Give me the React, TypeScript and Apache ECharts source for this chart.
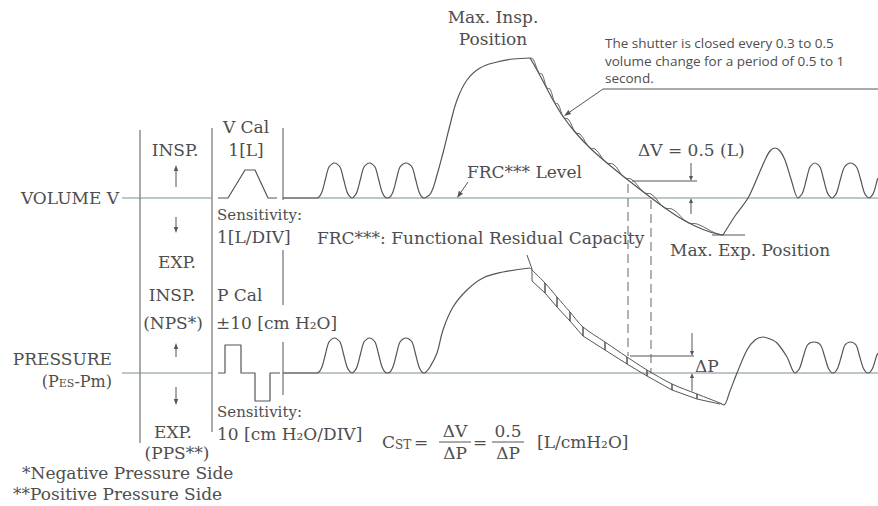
import React, { useEffect, useRef } from "react";
import * as echarts from "echarts";

// ---------------- data (time and signal in chart divisions, read from the recording) ----------------
const baseLeftT = [12.2, 21.2];
const baseMainT = [28.3, 87.8];

const volCalT = [21.8, 22.8, 24.5, 25.5, 26.8, 27.7];
const volCalV = [0, 0, 2.8, 2.8, 0, 0];

const presCalT = [21.8, 22.5, 22.5, 24.1, 24.1, 25.5, 25.5, 27.0, 27.0, 28.0];
const presCalP = [0, 0, 2.8, 2.8, 0, 0, -2.8, -2.8, 0, 0];

const tidalT = [28.3, 31.7, 32.15, 32.55, 32.9, 33.45, 34.0, 34.35, 34.75, 35.2, 35.65, 36.05, 36.4, 36.95, 37.5, 37.85, 38.25, 38.7, 38.8, 39.25, 39.65, 40.0, 40.6, 41.2, 41.55, 41.95, 42.4, 42.5];
const volTidalV = [0, 0, 0.5, 1.9, 3.1, 3.5, 3.1, 1.9, 0.5, 0, 0.5, 1.9, 3.1, 3.5, 3.1, 1.9, 0.5, 0, 0, 0.5, 1.9, 3.1, 3.5, 3.1, 1.9, 0.5, 0, 0];
const presTidalP = [0, 0, 0.5, 1.9, 3.1, 3.5, 3.1, 1.9, 0.5, 0, 0.5, 1.9, 3.1, 3.5, 3.1, 1.9, 0.5, 0, 0, 0.5, 1.9, 3.1, 3.5, 3.1, 1.9, 0.5, 0, 0];

const volInspT = [42.5, 43.1, 43.7, 44.3, 45.0, 45.7, 46.7, 48.0, 49.7, 51.3, 53.0];
const volInspV = [0, 0.5, 2.3, 4.5, 7.3, 9.8, 11.8, 13.0, 13.6, 13.9, 14.0];

const volExpT = [53.0, 53.7, 54.5, 55.3, 56.2, 57.5, 59.0, 60.7, 62.8, 65.0, 66.5, 68.0, 69.5, 71.0, 72.3];
const volExpV = [14.0, 12.8, 11.3, 9.8, 8.3, 6.6, 5.0, 3.5, 1.8, 0.1, -1.0, -2.0, -2.8, -3.4, -3.7];

const volShutterT = [53.0, 53.3, 53.9, 54.2, 54.7, 55.0, 55.5, 55.8, 56.4, 56.8, 57.6, 58.0, 59.0, 59.5, 60.7, 61.3, 62.5, 63.1, 64.5, 65.1, 66.5, 67.2, 68.9, 69.7, 71.5, 72.3];
const volShutterV = [14.0, 13.9, 12.5, 12.4, 11.0, 10.9, 9.5, 9.4, 8.0, 7.9, 6.5, 6.4, 5.0, 4.9, 3.5, 3.4, 2.0, 1.9, 0.5, 0.4, -1.0, -1.1, -2.5, -2.6, -3.5, -3.7];

const volPostT = [72.3, 73.5, 74.8, 75.8, 76.5, 77.0, 77.5, 78.0, 78.5, 79.1, 79.8, 80.25, 80.65, 81.0, 81.5, 82.0, 82.35, 82.75, 83.2, 83.65, 84.05, 84.45, 85.05, 85.65, 86.05, 86.45, 86.9, 87.35, 87.75, 87.8];
const volPostV = [-3.7, -1.8, 0, 2.2, 3.8, 4.7, 5.0, 4.7, 3.8, 1.9, 0, 0.5, 1.9, 3.1, 3.5, 3.1, 1.9, 0.5, 0, 0.5, 1.9, 3.1, 3.5, 3.1, 1.9, 0.5, 0, 0.5, 1.9, 2.0];

const presInspT = [42.5, 43.0, 43.7, 44.3, 45.3, 46.7, 48.3, 50.3, 53.0];
const presInspP = [0, 0.6, 2.0, 4.3, 6.6, 8.3, 9.5, 10.1, 10.5];

const presExpT = [53.0, 54.5, 55.7, 57.0, 58.3, 60.5, 62.7, 64.7, 67.2, 69.7, 72.0];
const presExpP = [10.5, 9.0, 7.6, 6.1, 4.6, 3.1, 1.6, 0.3, -1.1, -2.1, -3.0];

const presStepT = [52.7, 53.2, 53.2, 54.5, 54.5, 54.5, 55.7, 55.7, 55.7, 57.0, 57.0, 57.0, 58.3, 58.3, 58.3, 60.5, 60.5, 60.5, 62.7, 62.7, 62.7, 64.7, 64.7, 64.7, 67.2, 67.2, 67.2, 69.7, 69.7, 69.7, 72.0];
const presStepP = [11.8, 10.4, 9.2, 8.0, 9.0, 8.0, 6.6, 7.6, 6.6, 5.2, 6.1, 5.2, 3.7, 4.6, 3.7, 2.3, 3.1, 2.3, 0.9, 1.6, 0.9, -0.3, 0.3, -0.3, -1.7, -1.1, -1.7, -2.6, -2.1, -2.6, -3.1];

const presPostT = [72.0, 72.4, 73.0, 73.7, 74.7, 75.5, 76.3, 77.0, 77.7, 78.7, 79.5, 79.95, 80.35, 80.75, 81.4, 82.05, 82.45, 82.85, 83.3, 83.75, 84.15, 84.5, 85.05, 85.6, 85.95, 86.35, 86.8, 87.25, 87.65, 87.8];
const presPostP = [-3.0, -3.2, -1.8, 0, 2.3, 3.3, 3.6, 3.4, 3.0, 1.6, 0, 0.45, 1.7, 2.8, 3.1, 2.8, 1.7, 0.45, 0, 0.45, 1.7, 2.8, 3.1, 2.8, 1.7, 0.45, 0, 0.45, 1.7, 2.0];

// annotation values
const deltaVLevel = 1.7;
const deltaPLevel = 1.7;
const tDeltaA = 62.8;
const tDeltaB = 65.1;
const volMin = -3.7;

// ---------------- layout / style ----------------
const W = 878, H = 506;
const X_MIN = 0, X_MAX = 87.8;
const V_MIN = -8, V_MAX = 19;
const P_MIN = -12, P_MAX = 12;
const GV = { left: 0, top: 8, width: 878, height: 270 };
const GP = { left: 0, top: 253, width: 878, height: 240 };
const px = (t: number) => GV.left + ((t - X_MIN) / (X_MAX - X_MIN)) * GV.width;
const pyV = (v: number) => GV.top + ((V_MAX - v) / (V_MAX - V_MIN)) * GV.height;
const pyP = (p: number) => GP.top + ((P_MAX - p) / (P_MAX - P_MIN)) * GP.height;

const SERIF = "'DejaVu Serif', serif";
const SANS = "'Open Sans', Lato, sans-serif";
const TXT = "#4e4e4e";
const LINE = "#555555";
const BASE = "#7b8d9b";
const FS = 17;

const zip = (ts: number[], vs: number[]) => ts.map((t, i) => [t, vs[i]]);

function ser(data: number[][], idx: number, opts: any = {}) {
  return {
    type: "line",
    xAxisIndex: idx,
    yAxisIndex: idx,
    data,
    symbol: "none",
    showSymbol: false,
    silent: true,
    smooth: opts.smooth ?? false,
    lineStyle: { color: opts.color ?? LINE, width: opts.width ?? 1.2, type: opts.type ?? "solid" },
    z: opts.z ?? 3,
  };
}

function T(text: string, x: number, y: number, o: any = {}) {
  return {
    type: "text",
    x,
    y,
    silent: true,
    style: {
      text,
      fill: TXT,
      fontSize: o.size ?? FS,
      fontFamily: o.family ?? SERIF,
      align: o.align ?? "left",
      verticalAlign: "middle",
      rich: o.rich,
    },
  };
}

function L(x1: number, y1: number, x2: number, y2: number, o: any = {}) {
  return {
    type: "line",
    silent: true,
    shape: { x1, y1, x2, y2 },
    style: { stroke: o.color ?? LINE, lineWidth: o.width ?? 1, lineDash: o.dash },
  };
}

function arrow(x1: number, y1: number, x2: number, y2: number, head = 6, half = 2.2) {
  const dx = x2 - x1, dy = y2 - y1;
  const len = Math.hypot(dx, dy);
  const ux = dx / len, uy = dy / len;
  const bx = x2 - ux * head, by = y2 - uy * head;
  return [
    L(x1, y1, bx, by),
    {
      type: "polygon",
      silent: true,
      shape: { points: [[x2, y2], [bx - uy * half, by + ux * half], [bx + uy * half, by - ux * half]] },
      style: { fill: LINE },
    },
  ];
}

export default function App() {
  const ref = useRef<HTMLDivElement>(null);
  useEffect(() => {
    if (!ref.current) return;
    const chart = echarts.init(ref.current, undefined, { renderer: "svg" });

    const series = [
      ser(zip(baseLeftT, [0, 0]), 0, { color: BASE }),
      ser(zip(baseMainT, [0, 0]), 0, { color: BASE }),
      ser(zip(baseLeftT, [0, 0]), 1, { color: BASE }),
      ser(zip(baseMainT, [0, 0]), 1, { color: BASE }),
      ser(zip(volCalT, volCalV), 0),
      ser(zip(presCalT, presCalP), 1),
      ser(zip(tidalT, volTidalV), 0, { smooth: 0.3 }),
      ser(zip(volInspT, volInspV), 0, { smooth: 0.4 }),
      ser(zip(volExpT, volExpV), 0, { smooth: 0.3 }),
      ser(zip(volShutterT, volShutterV), 0, { smooth: 0.4, width: 0.9 }),
      ser(zip(volPostT, volPostV), 0, { smooth: 0.3 }),
      ser(zip(tidalT, presTidalP), 1, { smooth: 0.3 }),
      ser(zip(presInspT, presInspP), 1, { smooth: 0.4 }),
      ser(zip(presExpT, presExpP), 1, { smooth: 0.3, width: 1 }),
      ser(zip(presStepT, presStepP), 1, { width: 1 }),
      ser(zip(presPostT, presPostP), 1, { smooth: 0.3 }),
    ];

    const g: any[] = [];
    // separators
    g.push(L(140, 130, 140, 443));
    g.push(L(212, 128, 212, 432));
    g.push(L(283, 128, 283, 200));
    g.push(L(283, 250, 283, 305));
    g.push(L(283, 342, 283, 395));
    // left arrows
    g.push(...arrow(176, 187, 176, 165));
    g.push(...arrow(176, 217, 176, 233));
    g.push(...arrow(176, 357, 176, 343));
    g.push(...arrow(176, 387, 176, 405));

    // shutter leader
    g.push(L(W, 89, 603, 89));
    g.push(...arrow(603, 89, px(56.4), pyV(8.1) - 1, 7, 2.5));
    // FRC level leader
    g.push(...arrow(468, 182, 457, pyV(0), 7, 2.5));
    // max exp tangent
    g.push(L(712, pyV(volMin), 745, pyV(volMin)));

    // delta V
    const yDV = pyV(deltaVLevel);
    g.push(L(px(63.2), yDV, 697, yDV));
    g.push(...arrow(691, 163, 691, yDV, 5, 2));
    g.push(...arrow(691, 214, 691, pyV(0), 5, 2));
    // delta P
    const yDP = pyP(deltaPLevel);
    g.push(L(px(63.0), yDP, 694, yDP));
    g.push(...arrow(692, 333, 692, yDP, 5, 2));
    g.push(...arrow(692, 391, 692, pyP(0), 5, 2));
    // dashed verticals
    g.push(L(px(tDeltaA), yDV + 3, px(tDeltaA), yDP, { dash: [9, 5], color: "#666" }));
    g.push(L(px(tDeltaB), pyV(0) + 2, px(tDeltaB), pyP(0), { dash: [9, 5], color: "#666" }));

    // texts
    g.push(T("Max. Insp.", 493, 17, { align: "center" }));
    g.push(T("Position", 493, 39, { align: "center" }));
    g.push(T("The shutter is closed every 0.3 to 0.5", 605, 43, { size: 13.5, family: SANS }));
    g.push(T("volume change for a period of 0.5 to 1", 605, 61, { size: 13.5, family: SANS }));
    g.push(T("second.", 605, 78, { size: 13.5, family: SANS }));
    g.push(T("FRC*** Level", 467, 172));
    g.push(T("\u0394V = 0.5 (L)", 638, 150));
    g.push(T("VOLUME V", 119, 198, { align: "right" }));
    g.push(T("INSP.", 175, 150, { align: "center" }));
    g.push(T("EXP.", 177, 262, { align: "center" }));
    g.push(T("V Cal", 246, 127, { align: "center" }));
    g.push(T("1[L]", 246, 150, { align: "center" }));
    g.push(T("Sensitivity:", 217, 215, { size: 15 }));
    g.push(T("1[L/DIV]", 217, 237));
    g.push(T("FRC***: Functional Residual Capacity", 317, 238));
    g.push(T("Max. Exp. Position", 670, 250));
    g.push(T("INSP.", 172, 295, { align: "center" }));
    g.push(T("(NPS*)", 173, 323, { align: "center" }));
    g.push(T("P Cal", 217, 295));
    g.push(T("\u00B110 [cm H\u2082O]", 216, 323));
    g.push(T("PRESSURE", 112, 359, { align: "right" }));
    g.push(
      T("{a|(P}{b|ES}{a|-Pm)}", 112, 381, {
        align: "right",
        rich: {
          a: { fontSize: 16, fontFamily: SERIF, fill: TXT, verticalAlign: "bottom" },
          b: { fontSize: 11, fontFamily: SERIF, fill: TXT, verticalAlign: "bottom" },
        },
      })
    );
    g.push(T("EXP.", 173, 432, { align: "center" }));
    g.push(T("(PPS**)", 177, 453, { align: "center" }));
    g.push(T("Sensitivity:", 217, 412, { size: 15 }));
    g.push(T("10 [cm H\u2082O/DIV]", 217, 434));
    g.push(T("\u0394P", 695, 366));
    g.push(T("*Negative Pressure Side", 22, 473));
    g.push(T("**Positive Pressure Side", 13, 494));

    // formula
    g.push(
      T("{a|C}{b|ST}", 382, 442, {
        rich: {
          a: { fontSize: FS, fontFamily: SERIF, fill: TXT, verticalAlign: "bottom" },
          b: { fontSize: 12, fontFamily: SERIF, fill: TXT, verticalAlign: "bottom" },
        },
      })
    );
    g.push(T("=", 421, 442, { align: "center" }));
    g.push(T("\u0394V", 455, 431, { align: "center" }));
    g.push(L(439, 442, 471, 442));
    g.push(T("\u0394P", 455, 453, { align: "center" }));
    g.push(T("=", 480, 442, { align: "center" }));
    g.push(T("0.5", 508, 431, { align: "center" }));
    g.push(L(492, 442, 524, 442));
    g.push(T("\u0394P", 508, 453, { align: "center" }));
    g.push(T("[L/cmH\u2082O]", 537, 442));

    chart.setOption({
      animation: false,
      backgroundColor: "#ffffff",
      grid: [
        { ...GV, containLabel: false },
        { ...GP, containLabel: false },
      ],
      xAxis: [
        { type: "value", gridIndex: 0, min: X_MIN, max: X_MAX, show: false },
        { type: "value", gridIndex: 1, min: X_MIN, max: X_MAX, show: false },
      ],
      yAxis: [
        { type: "value", gridIndex: 0, min: V_MIN, max: V_MAX, show: false },
        { type: "value", gridIndex: 1, min: P_MIN, max: P_MAX, show: false },
      ],
      series,
      graphic: g,
    });
    return () => chart.dispose();
  }, []);
  return (
    <div
      ref={ref}
      style={{ position: "fixed", left: 0, top: 0, width: W, height: H, background: "#fff" }}
    />
  );
}
